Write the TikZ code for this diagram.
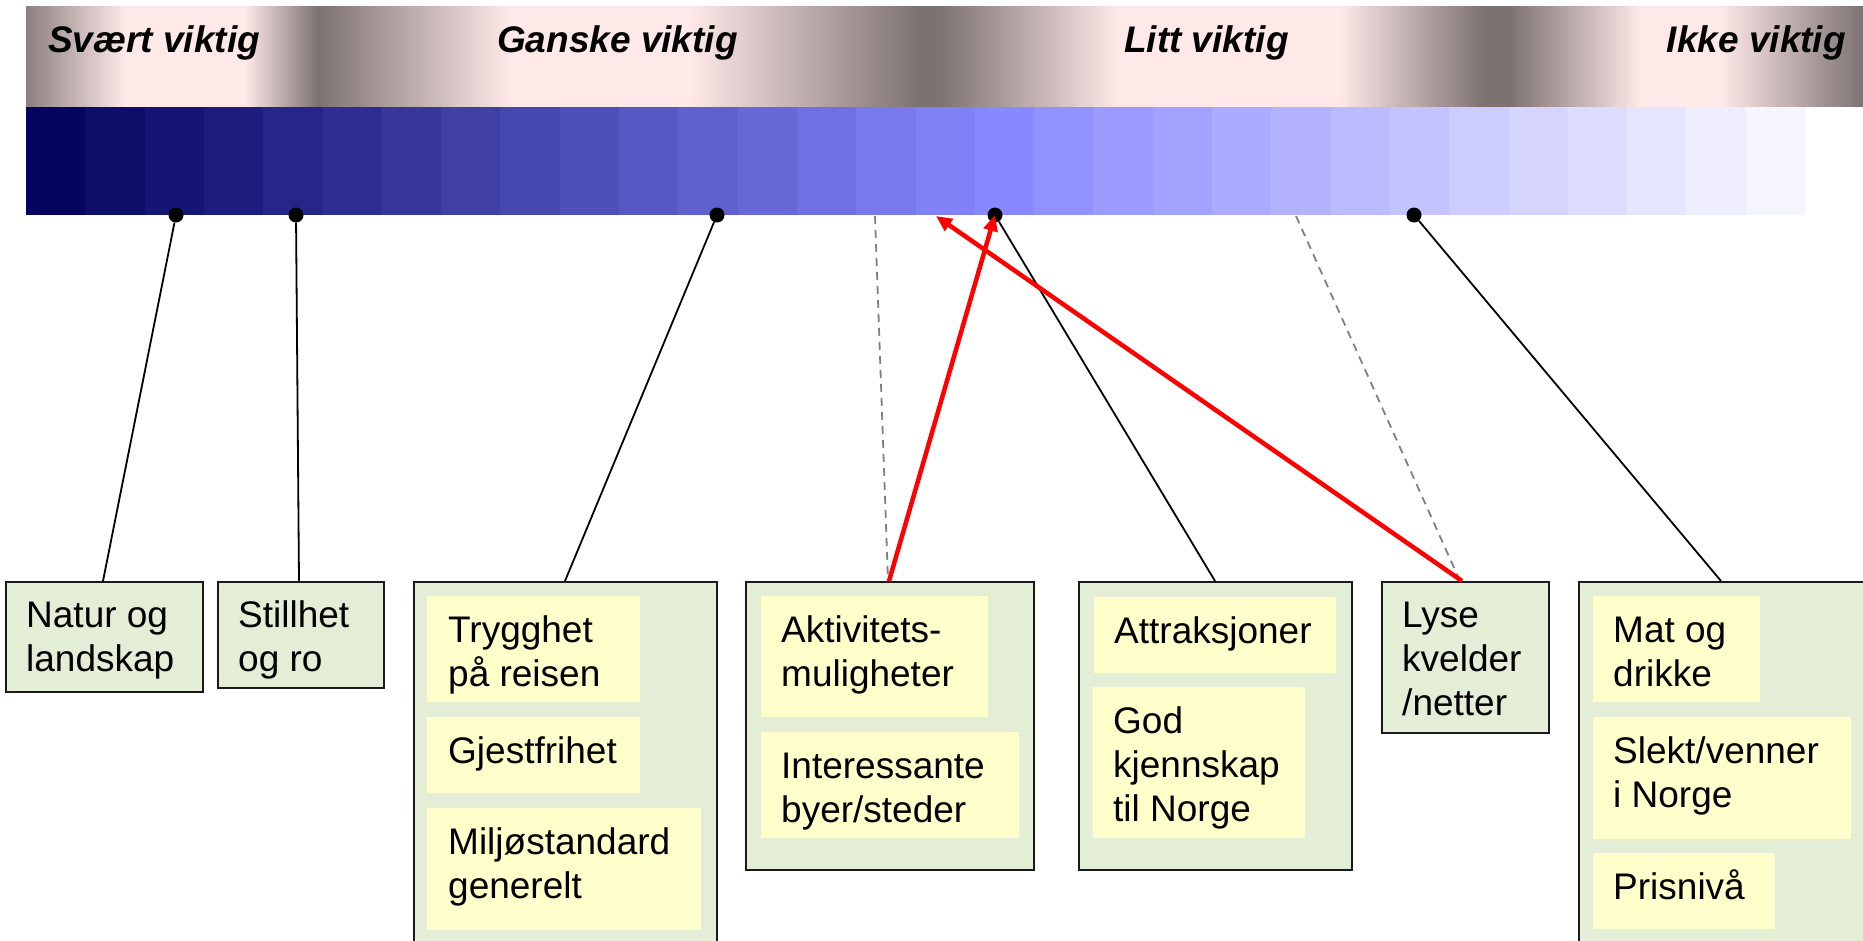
\documentclass[tikz,border=0pt]{standalone}
\usepackage{fontspec}
\setmainfont{Liberation Sans}
\usetikzlibrary{arrows.meta}
\definecolor{bandDark}{RGB}{125,114,114}
\definecolor{bandPink}{RGB}{254,232,232}
\definecolor{bandEdge}{RGB}{140,128,128}
\definecolor{grp}{RGB}{228,237,213}
\definecolor{yel}{RGB}{255,255,204}
\definecolor{redA}{RGB}{255,0,0}
\definecolor{dashg}{RGB}{128,128,128}
\definecolor{boxline}{RGB}{26,26,26}
\pgfdeclarehorizontalshading{band}{100bp}{color(0bp)=(bandEdge); color(25bp)=(bandEdge); color(27.69bp)=(bandPink); color(30.96bp)=(bandPink); color(32.95bp)=(bandDark); color(38.17bp)=(bandPink); color(43.07bp)=(bandPink); color(49.28bp)=(bandDark); color(49.88bp)=(bandDark); color(54.72bp)=(bandPink); color(60.77bp)=(bandPink); color(64.66bp)=(bandDark); color(65.39bp)=(bandDark); color(68.93bp)=(bandPink); color(71.11bp)=(bandPink); color(75bp)=(bandDark); color(100bp)=(bandDark)}
\tikzset{
  lbl/.style={anchor=north west, inner sep=0pt, align=left, font=\fontsize{37pt}{44pt}\selectfont},
  head/.style={inner sep=0pt, font=\fontsize{37pt}{44pt}\selectfont\bfseries\itshape},
  gbox/.style={draw=boxline, line width=2pt, fill=grp, anchor=north west, inner sep=0pt},
  ybox/.style={fill=yel, anchor=north west, inner sep=0pt},
  dot/.style={circle, fill=black, inner sep=0pt, minimum size=15pt},
  link/.style={line width=1.8pt, black},
  hint/.style={dashg, line width=1.8pt, dash pattern=on 8pt off 6pt},
  move/.style={redA, line width=4.5pt, -{Triangle[length=16pt,width=14pt]}},
}
\newcommand{\fl}{\rule{0pt}{30pt}}
\begin{document}
\begin{tikzpicture}[x=1pt,y=-1pt]
\useasboundingbox (0,0) rectangle (1863,940);
\clip (0,0) rectangle (1863,940);
% top band
\shade[shading=band] (26,6) rectangle (1863,107);
\node[head, anchor=base west] (h1) at (48,52) {Svært viktig};
\node[head, anchor=base west] (h2) at (497,52) {Ganske viktig};
\node[head, anchor=base west] (h3) at (1124,52) {Litt viktig};
\node[head, anchor=base east] (h4) at (1846,52) {Ikke viktig};
% blue scale
\foreach \i in {0,...,29}{
  \pgfmathsetmacro\rr{int(5+8.3*\i)}
  \pgfmathsetmacro\bb{int(min(255,96+10*\i))}
  \fill[fill={rgb,255:red,\rr;green,\rr;blue,\bb}] (26+59.3*\i,107) rectangle (26.6+59.3*\i+59.3,215);
}
\fill[white] (1805,107) rectangle (1863,216);
% boxes
\node[gbox, minimum width=197pt, minimum height=110pt] (natur) at (5,581) {};
\node[gbox, minimum width=166pt, minimum height=106pt] (still) at (217,581) {};
\node[gbox, minimum width=303pt, minimum height=420pt] (g1) at (413,581) {};
\node[ybox, minimum width=213pt, minimum height=106pt] (tryg) at (427,596) {};
\node[ybox, minimum width=213pt, minimum height=76pt] (gjest) at (427,717) {};
\node[ybox, minimum width=274pt, minimum height=122pt] (miljo) at (427,808) {};
\node[gbox, minimum width=288pt, minimum height=288pt] (g2) at (745,581) {};
\node[ybox, minimum width=227pt, minimum height=121pt] (akt) at (761,596) {};
\node[ybox, minimum width=258pt, minimum height=106pt] (inter) at (761,732) {};
\node[gbox, minimum width=273pt, minimum height=288pt] (g3) at (1078,581) {};
\node[ybox, minimum width=242pt, minimum height=76pt] (attr) at (1094,597) {};
\node[ybox, minimum width=212pt, minimum height=151pt] (god) at (1093,687) {};
\node[gbox, minimum width=167pt, minimum height=151pt] (lyse) at (1381,581) {};
\node[gbox, minimum width=320pt, minimum height=420pt] (g4) at (1578,581) {};
\node[ybox, minimum width=167pt, minimum height=106pt] (mat) at (1593,596) {};
\node[ybox, minimum width=258pt, minimum height=122pt] (slekt) at (1593,717) {};
\node[ybox, minimum width=182pt, minimum height=76pt] (pris) at (1593,853) {};
% texts
\node[lbl] (t-natur) at ([shift={(21,16)}]natur.north west) {\fl Natur og\\landskap};
\node[lbl] (t-still) at ([shift={(21,16)}]still.north west) {\fl Stillhet\\og ro};
\node[lbl] (t-tryg) at ([shift={(21,16)}]tryg.north west) {\fl Trygghet\\på reisen};
\node[lbl] (t-gjest) at ([shift={(21,16)}]gjest.north west) {\fl Gjestfrihet};
\node[lbl] (t-miljo) at ([shift={(21,16)}]miljo.north west) {\fl Miljøstandard\\generelt};
\node[lbl] (t-akt) at ([shift={(20,16)}]akt.north west) {\fl Aktivitets-\\muligheter};
\node[lbl] (t-inter) at ([shift={(20,16)}]inter.north west) {\fl Interessante\\byer/steder};
\node[lbl] (t-attr) at ([shift={(20,16)}]attr.north west) {\fl Attraksjoner};
\node[lbl] (t-god) at ([shift={(20,16)}]god.north west) {\fl God\\kjennskap\\til Norge};
\node[lbl] (t-lyse) at ([shift={(21,16)}]lyse.north west) {\fl Lyse\\kvelder\\/netter};
\node[lbl] (t-mat) at ([shift={(20,16)}]mat.north west) {\fl Mat og\\drikke};
\node[lbl] (t-slekt) at ([shift={(20,16)}]slekt.north west) {\fl Slekt/venner\\i Norge};
\node[lbl] (t-pris) at ([shift={(20,16)}]pris.north west) {\fl Prisnivå};
% dots and free ends
\node[dot] (d1) at (176,215) {};
\node[dot] (d2) at (296,215) {};
\node[dot] (d3) at (717,215) {};
\node[dot] (d4) at (995,215) {};
\node[dot] (d5) at (1414,215) {};
\coordinate (p1) at (875,216);
\coordinate (p2) at (1296,216);
\coordinate (p3) at (936,216);
% connectors
\draw[hint] (p1) -- ([xshift=143pt]g2.north west);
\draw[hint] (p2) -- ([xshift=79pt]lyse.north west);
\draw[link] (d1) -- ([xshift=98pt]natur.north west);
\draw[link] (d2) -- ([xshift=82pt]still.north west);
\draw[link] (d3) -- ([xshift=152pt]g1.north west);
\draw[link] (d4) -- ([xshift=137pt]g3.north west);
\draw[link] (d5) -- ([xshift=143pt]g4.north west);
\draw[move] ([xshift=144pt]g2.north west) -- (d4.center);
\draw[move] ([xshift=81pt]lyse.north west) -- (p3);
\end{tikzpicture}
\end{document}
